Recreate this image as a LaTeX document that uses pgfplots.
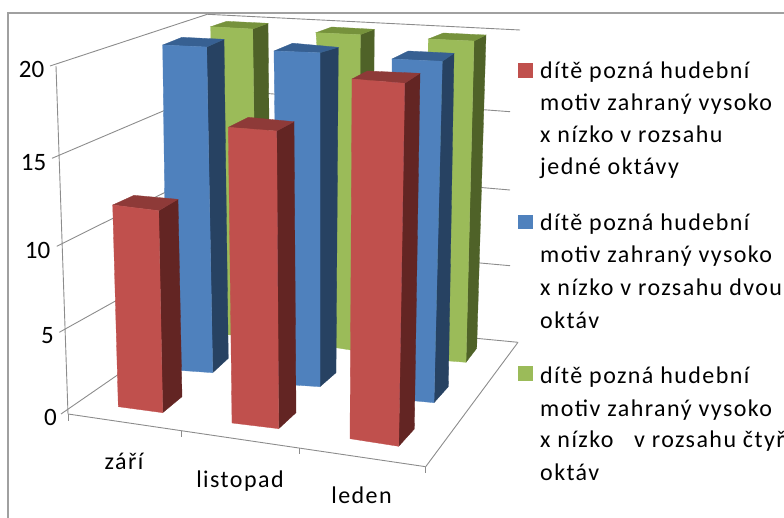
\documentclass[border=0pt]{standalone}
\usepackage{pgfplots}
\pgfplotsset{compat=1.18}
\usepackage{fontspec}
\setmainfont{Carlito}
\newfontfamily\spaced[LetterSpace=6]{Carlito}
\definecolor{rF}{HTML}{C0504D}\definecolor{rS}{HTML}{632523}\definecolor{rT}{HTML}{8E3A38}
\definecolor{bF}{HTML}{4F81BD}\definecolor{bS}{HTML}{274262}\definecolor{bT}{HTML}{376092}
\definecolor{gF}{HTML}{9BBB59}\definecolor{gS}{HTML}{4F6228}\definecolor{gT}{HTML}{76923C}
\definecolor{wall}{HTML}{8C8C8C}\definecolor{frame}{HTML}{A0A0A0}
% #1 colour prefix; #2 front-left top; #3 front-right top; #4 back-right top; #5 back-left top;
% #6 front-left bottom; #7 front-right bottom; #8 back-right bottom
\newcommand{\barthree}[8]{%
  \addplot[fill=#1S,draw=#1S,line width=.3pt,mark=none] coordinates {#3 #4 #8 #7} --cycle;
  \addplot[fill=#1T,draw=#1T,line width=.3pt,mark=none] coordinates {#2 #3 #4 #5} --cycle;
  \addplot[fill=#1F,draw=#1F,line width=.3pt,mark=none] coordinates {#2 #3 #7 #6} --cycle;
}
\newcommand{\wl}[2]{\addplot[wall,line width=.9pt,mark=none] coordinates {#1 #2};}
\begin{document}
\begin{tikzpicture}
\path[use as bounding box,clip] (0,0) rectangle (784pt,518pt);
\begin{axis}[scale only axis,width=784pt,height=518pt,axis lines=none,
  xmin=0,xmax=784,ymin=0,ymax=518,y dir=reverse,clip=false]
% chart frame
\addplot[frame,line width=2pt,mark=none] coordinates {(8,518) (8,13) (784,13)};
% walls and floor
\wl{(56,66)}{(68,414)}
\wl{(50,66)}{(207.3,14.3)}
\wl{(52,158.3)}{(213.7,89.5)}
\wl{(56.7,246.3)}{(220,165)}
\wl{(59.3,332.3)}{(225,240)}
\wl{(61,414)}{(232,296)}
\wl{(207.3,14.3)}{(520,30)}
\wl{(213.7,89.5)}{(510,111.7)}
\wl{(220,165)}{(510,190)}
\wl{(225,240)}{(510,265.7)}
\wl{(232,315)}{(518,342.3)}
\wl{(68,414)}{(425.7,466.7)}
\wl{(425.7,466.7)}{(518,342.3)}
\wl{(68,414)}{(68,420.5)}
\wl{(181.7,430.7)}{(181.7,436.5)}
\wl{(299.7,448.3)}{(299.7,454.3)}
\wl{(425.7,466.7)}{(425.7,472.5)}
% back row
\barthree{g}{(210.7,26.7)}{(252.7,29)}{(268,23.3)}{(226.7,21.3)}{(214,333.5)}{(257,337.3)}{(271,324)}
\barthree{g}{(316,32.7)}{(360.3,34.7)}{(374.3,29.3)}{(331.7,27)}{(336,347.7)}{(359,351.3)}{(372,338)}
\barthree{g}{(428.3,39)}{(474,41)}{(486,35)}{(443.3,33)}{(424,359)}{(466,362.3)}{(476.7,348.3)}
% middle row
\barthree{b}{(162.7,45)}{(206.7,47)}{(224,39.3)}{(182,37.3)}{(167,369.5)}{(212.7,372.7)}{(228.3,358.3)}
\barthree{b}{(274,51)}{(320,52.7)}{(338.3,47.3)}{(292.7,43.2)}{(278,384)}{(320,386.7)}{(336,372.7)}
\barthree{b}{(392,59)}{(442.3,61.3)}{(454,53.3)}{(408.3,51)}{(395,399)}{(434,402.7)}{(448.3,386.7)}
% front row
\barthree{r}{(112.7,205)}{(158.7,210.7)}{(178,199.3)}{(134,195.3)}{(118.3,406.7)}{(162.7,412.7)}{(182,396.7)}
\barthree{r}{(228.3,127.3)}{(276.7,131)}{(294,121.7)}{(248.3,117.3)}{(232,423)}{(278.7,428.7)}{(296,412.7)}
\barthree{r}{(352,79)}{(404.7,83.3)}{(420,73.3)}{(367.3,71)}{(350,438.7)}{(398.7,446.3)}{(414.3,429)}
% legend keys
\addplot[fill=rF,draw=none,mark=none] coordinates {(518,63.3) (533,63.3) (533,78) (518,78)} --cycle;
\addplot[fill=bF,draw=none,mark=none] coordinates {(518,215) (533,215) (533,229) (518,229)} --cycle;
\addplot[fill=gF,draw=none,mark=none] coordinates {(518,366) (533,366) (533,380.7) (518,380.7)} --cycle;
% tick labels
\begin{scope}[every node/.style={inner sep=0pt,font=\fontsize{25}{25}\selectfont}]
\node[anchor=base east] at (axis cs:44.5,78) {20};
\node[anchor=base east] at (axis cs:46.5,170.5) {15};
\node[anchor=base east] at (axis cs:50.5,258.5) {10};
\node[anchor=base east] at (axis cs:54,344) {5};
\node[anchor=base east] at (axis cs:57,425.5) {0};
\end{scope}
\begin{scope}[every node/.style={inner sep=0pt,font=\fontsize{24}{24}\selectfont\spaced}]
\node[anchor=base] at (axis cs:124,469.3) {září};
\node[anchor=base] at (axis cs:240,487.7) {listopad};
\node[anchor=base] at (axis cs:361.5,503.3) {leden};
\end{scope}
\begin{scope}[every node/.style={inner sep=0pt,anchor=base west,font=\fontsize{24}{24}\selectfont\spaced}]
\node at (axis cs:540,78.3) {dítě pozná hudební};
\node at (axis cs:540,110.7) {motiv zahraný vysoko};
\node at (axis cs:540,142.3) {x nízko v rozsahu};
\node at (axis cs:540,174.3) {jedné oktávy};
\node at (axis cs:540,230.7) {dítě pozná hudební};
\node at (axis cs:540,262.7) {motiv zahraný vysoko};
\node at (axis cs:540,296) {x nízko v rozsahu dvou};
\node at (axis cs:540,328.3) {oktáv};
\node at (axis cs:540,383.3) {dítě pozná hudební};
\node at (axis cs:540,416) {motiv zahraný vysoko};
\node at (axis cs:540,447.7) {x nízko\ \ \ v rozsahu čtyř};
\node at (axis cs:540,480) {oktáv};
\end{scope}
\end{axis}
\end{tikzpicture}
\end{document}
